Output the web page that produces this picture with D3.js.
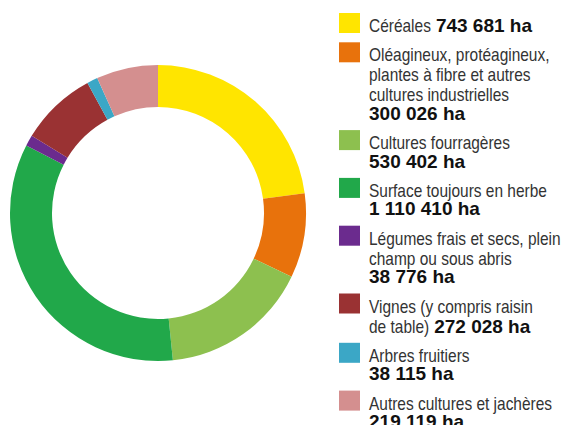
<!DOCTYPE html>
<meta charset="utf-8">
<style>
  body { margin: 0; background: #fff; }
  .legend text { font-family: "Liberation Sans", Arial, sans-serif; font-size: 18px; fill: #333; }
  .legend text.num { font-weight: bold; font-size: 19px; fill: #111; }
</style>
<body>
<svg id="chart" width="574" height="425"></svg>
<script src="https://d3js.org/d3.v7.min.js"></script>
<script>
// data
var categories = ["Céréales", "Oléagineux", "Cultures fourragères", "Surface toujours en herbe",
  "Légumes frais et secs", "Vignes", "Arbres fruitiers", "Autres cultures et jachères"];
var values = [743681, 300026, 530402, 1110410, 38776, 272028, 38115, 219119];
var colors = ["#ffe500", "#e8720c", "#8dc04f", "#21a84a", "#6b2b8e", "#9a3233", "#3ba7c6", "#d48f8f"];
var labelLines = [
  ["Céréales"],
  ["Oléagineux, protéagineux,", "plantes à fibre et autres", "cultures industrielles"],
  ["Cultures fourragères"],
  ["Surface toujours en herbe"],
  ["Légumes frais et secs, plein", "champ ou sous abris"],
  ["Vignes (y compris raisin", "de table)"],
  ["Arbres fruitiers"],
  ["Autres cultures et jachères"]
];
var numberInline = [true, false, false, false, false, true, false, false];

var fr = d3.formatLocale({decimal: ",", thousands: " ", grouping: [3], currency: ["", " €"]});
var fmt = fr.format(",");

var svg = d3.select("#chart");

// donut
var cx = 158, cy = 213, outerR = 148, innerR = 106;
var pie = d3.pie().sort(null).value(function(d) { return d; });
var arc = d3.arc().innerRadius(innerR).outerRadius(outerR);

svg.append("g")
  .attr("transform", "translate(" + cx + "," + cy + ")")
  .selectAll("path")
  .data(pie(values))
  .join("path")
  .attr("d", arc)
  .attr("fill", function(d, i) { return colors[i]; });

// legend (label text squeezed horizontally to mimic a condensed face)
var legend = svg.append("g").attr("class", "legend");
var lineStep = 20, numStep = 18.5, itemGap = 29.3;
var y = 32;
var textX = 369, swX = 339, sx = 0.86;

categories.forEach(function(c, i) {
  var g = legend.append("g");
  g.append("rect")
    .attr("x", swX).attr("y", y - 19)
    .attr("width", 21).attr("height", 20)
    .attr("fill", colors[i]);
  var lines = labelLines[i];
  lines.forEach(function(l, j) {
    var t = g.append("text")
      .attr("transform", "translate(" + textX + "," + y + ") scale(" + sx + ",1)")
      .text(l);
    if (j === lines.length - 1 && numberInline[i]) {
      var w = t.node().getComputedTextLength() * sx;
      g.append("text").attr("class", "num")
        .attr("x", textX + w + 5).attr("y", y)
        .text(fmt(values[i]) + " ha");
    }
    if (j < lines.length - 1) y += lineStep;
  });
  if (!numberInline[i]) {
    y += numStep;
    g.append("text").attr("class", "num")
      .attr("x", textX).attr("y", y)
      .text(fmt(values[i]) + " ha");
  }
  y += itemGap;
});
</script>
</body>
